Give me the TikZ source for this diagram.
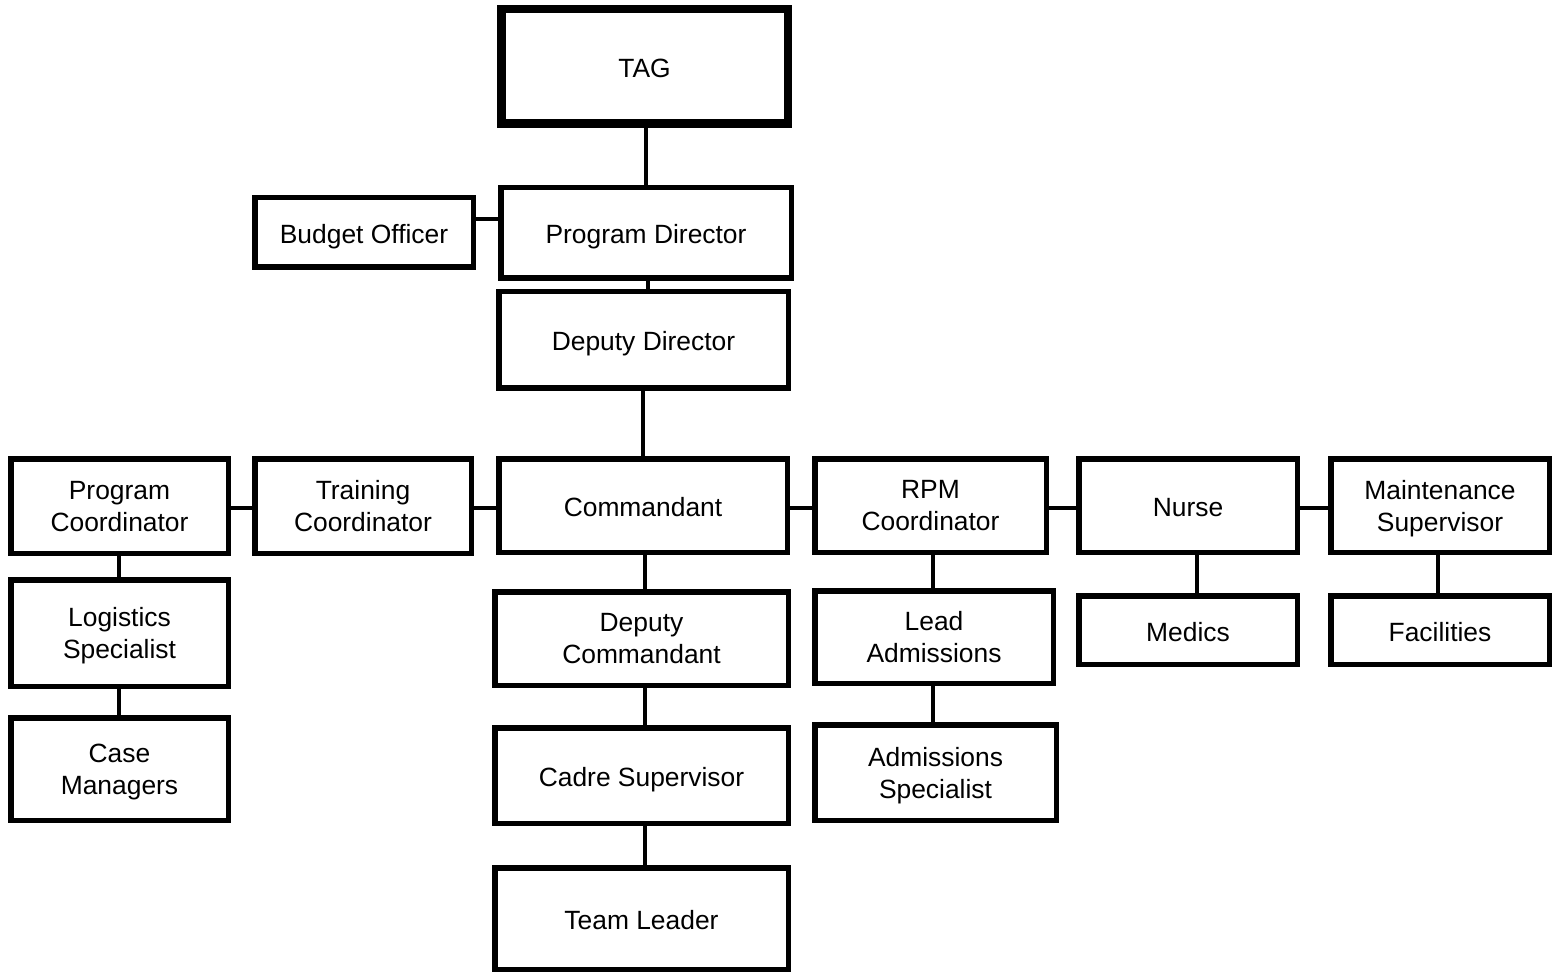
\documentclass[tikz,border=0pt]{standalone}
\usepackage{fontspec}
\setmainfont{Liberation Sans}
\begin{document}
\begin{tikzpicture}[x=1pt,y=-1pt,
  box/.style={draw=black,line width=5.5pt,fill=white,inner sep=0pt,align=center,
    text depth=0pt,font=\fontsize{26.4}{32}\selectfont},
  onebox/.style={box,text height=22pt},
  bigbox/.style={onebox,line width=8.5pt},
  conn/.style={draw=black,line width=4pt}]
\useasboundingbox (0,0) rectangle (1561,973);
\coordinate (hchain) at (0,508);
\coordinate (hbud) at (0,219);
\coordinate (v646) at (646,0);
\coordinate (v648) at (648,0);
\coordinate (v643) at (643,0);
\coordinate (v645) at (645,0);
\coordinate (v119) at (119,0);
\coordinate (v933) at (933,0);
\coordinate (v1197) at (1197,0);
\coordinate (v1438) at (1438,0);
% nodes
\node[bigbox,minimum width=286.5pt,minimum height=114.5pt] (TAG) at (644.5,66.5) {TAG};
\node[onebox,minimum width=290.5pt,minimum height=90.5pt] (PD) at (646,233) {Program Director};
\node[onebox,minimum width=218.5pt,minimum height=69.5pt] (BO) at (364,232.5) {Budget Officer};
\node[onebox,minimum width=289.5pt,minimum height=96.5pt] (DD) at (643.5,340) {Deputy Director};
\node[box,minimum width=217.5pt,minimum height=94.5pt] (PC) at (119.5,506) {Program\\Coordinator};
\node[box,minimum width=216.5pt,minimum height=94.5pt] (TC) at (363,506) {Training\\Coordinator};
\node[onebox,minimum width=288.5pt,minimum height=93.5pt] (COM) at (643,505.5) {Commandant};
\node[box,minimum width=231.5pt,minimum height=93.5pt] (RPM) at (930.5,505.5) {RPM\\Coordinator};
\node[onebox,minimum width=218.5pt,minimum height=93.5pt] (NUR) at (1188,505.5) {Nurse};
\node[box,minimum width=218.5pt,minimum height=93.5pt] (MS) at (1440,505.5) {Maintenance\\Supervisor};
\node[box,minimum width=217.5pt,minimum height=106.5pt] (LS) at (119.5,633) {Logistics\\Specialist};
\node[box,minimum width=217.5pt,minimum height=102.5pt] (CM) at (119.5,769) {Case\\Managers};
\node[box,minimum width=293.5pt,minimum height=93.5pt] (DC) at (641.5,638.5) {Deputy\\Commandant};
\node[onebox,minimum width=293.5pt,minimum height=95.5pt] (CS) at (641.5,775.5) {Cadre Supervisor};
\node[onebox,minimum width=293.5pt,minimum height=101.5pt] (TL) at (641.5,918.5) {Team Leader};
\node[box,minimum width=238.5pt,minimum height=92.5pt] (LA) at (934,637) {Lead\\Admissions};
\node[box,minimum width=241.5pt,minimum height=95.5pt] (AS) at (935.5,772.5) {Admissions\\Specialist};
\node[onebox,minimum width=218.5pt,minimum height=68.5pt] (MED) at (1188,630) {Medics};
\node[onebox,minimum width=218.5pt,minimum height=68.5pt] (FAC) at (1440,630) {Facilities};
% connectors
\draw[conn] (TAG.south -| v646) -- (PD.north -| v646);
\draw[conn] (BO.east |- hbud) -- (PD.west |- hbud);
\draw[conn] (PD.south -| v648) -- (DD.north -| v648);
\draw[conn] (DD.south -| v643) -- (COM.north -| v643);
\draw[conn] (PC.east |- hchain) -- (TC.west |- hchain);
\draw[conn] (TC.east |- hchain) -- (COM.west |- hchain);
\draw[conn] (COM.east |- hchain) -- (RPM.west |- hchain);
\draw[conn] (RPM.east |- hchain) -- (NUR.west |- hchain);
\draw[conn] (NUR.east |- hchain) -- (MS.west |- hchain);
\draw[conn] (PC.south -| v119) -- (LS.north -| v119);
\draw[conn] (LS.south -| v119) -- (CM.north -| v119);
\draw[conn] (COM.south -| v645) -- (DC.north -| v645);
\draw[conn] (DC.south -| v645) -- (CS.north -| v645);
\draw[conn] (CS.south -| v645) -- (TL.north -| v645);
\draw[conn] (RPM.south -| v933) -- (LA.north -| v933);
\draw[conn] (LA.south -| v933) -- (AS.north -| v933);
\draw[conn] (NUR.south -| v1197) -- (MED.north -| v1197);
\draw[conn] (MS.south -| v1438) -- (FAC.north -| v1438);
\end{tikzpicture}
\end{document}
